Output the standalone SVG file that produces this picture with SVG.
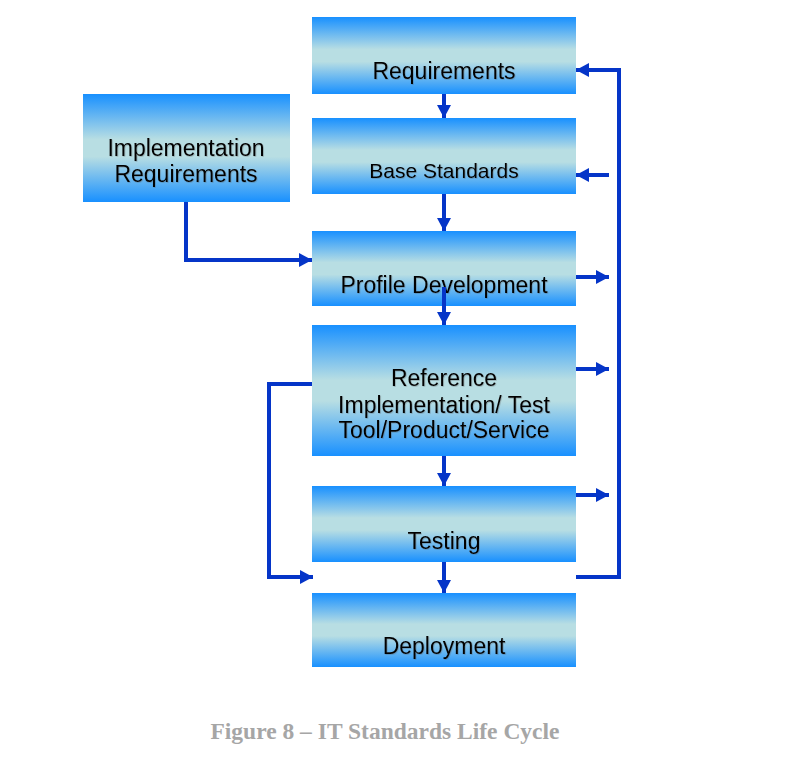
<svg xmlns="http://www.w3.org/2000/svg" width="806" height="761" viewBox="0 0 806 761">
<defs>
<linearGradient id="g" x1="0" y1="0" x2="0" y2="1">
<stop offset="0" stop-color="#1890ff"/>
<stop offset="0.42" stop-color="#b8dee3"/>
<stop offset="0.58" stop-color="#b8dee3"/>
<stop offset="1" stop-color="#1890ff"/>
</linearGradient>
<marker id="ah" viewBox="0 0 13 14" refX="13" refY="7" markerWidth="13" markerHeight="14" markerUnits="userSpaceOnUse" orient="auto">
<path d="M0,0 L13,7 L0,14 Z" fill="#0535c8"/>
</marker>
<filter id="sh" x="-5%" y="-20%" width="110%" height="140%">
<feDropShadow dx="0.7" dy="0.7" stdDeviation="0.3" flood-color="#555" flood-opacity="0.4"/>
</filter>
</defs>
<style>
.box{fill:url(#g)}
.t{font-family:"Liberation Sans",Arial,sans-serif;font-size:23px;fill:#000;text-anchor:middle;filter:url(#sh)}
.s{font-size:21px}
.c{fill:none;stroke:#0535c8;stroke-width:4}
.a{marker-end:url(#ah)}
.cap{font-family:"Liberation Serif","Times New Roman",serif;font-weight:bold;font-size:23.5px;fill:#a6a6a6;text-anchor:middle}
</style>
<rect width="806" height="761" fill="#fff"/>
<g id="requirements"><rect class="box" x="312" y="17" width="264" height="77"/><text class="t" x="444" y="79">Requirements</text></g>
<g id="base-standards"><rect class="box" x="312" y="118" width="264" height="76"/><text class="t s" x="444" y="178">Base Standards</text></g>
<g id="impl-req"><rect class="box" x="83" y="94" width="207" height="108"/><text class="t" x="186" y="156">Implementation</text><text class="t" x="186" y="182">Requirements</text></g>
<g id="profile-dev"><rect class="box" x="312" y="231" width="264" height="75"/><text class="t" x="444" y="293">Profile Development</text></g>
<g id="reference"><rect class="box" x="312" y="325" width="264" height="131"/><text class="t" x="444" y="386">Reference</text><text class="t" x="444" y="413">Implementation/ Test</text><text class="t" x="444" y="438">Tool/Product/Service</text></g>
<g id="testing"><rect class="box" x="312" y="486" width="264" height="76"/><text class="t" x="444" y="549">Testing</text></g>
<g id="deployment"><rect class="box" x="312" y="593" width="264" height="74"/><text class="t" x="444" y="654">Deployment</text></g>
<g id="connectors">
<path class="c a" d="M444,94 V118"/>
<path class="c a" d="M444,194 V231"/>
<path class="c a" d="M444,287 V325"/>
<path class="c a" d="M444,456 V486"/>
<path class="c a" d="M444,562 V593"/>
<path class="c a" d="M186,202 V260 H312"/>
<path class="c a" d="M576,577 H619 V70 H576"/>
<path class="c a" d="M609,175 H576"/>
<path class="c a" d="M576,277 H609"/>
<path class="c a" d="M576,369 H609"/>
<path class="c a" d="M576,495 H609"/>
<path class="c a" d="M312,384 H269 V577 H313"/>
</g>
<text class="cap" x="385" y="739">Figure 8 – IT Standards Life Cycle</text>
</svg>
